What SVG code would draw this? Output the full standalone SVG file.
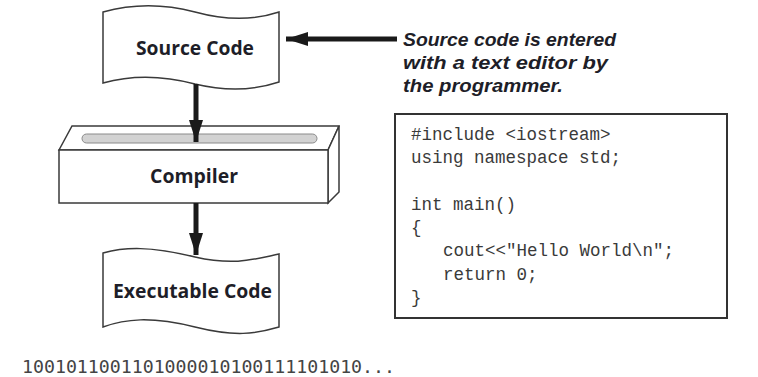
<svg xmlns="http://www.w3.org/2000/svg" width="758" height="377" viewBox="0 0 758 377">
<defs>
<style>
.shape{fill:#fff;stroke:#3a3a3a;stroke-width:1.5;stroke-linejoin:miter}
.label{font-family:"Open Sans","Liberation Sans",sans-serif;font-weight:bold;font-size:20px;fill:#1e1e28;text-anchor:middle}
.note{font-family:"Liberation Sans",sans-serif;font-weight:bold;font-style:italic;font-size:19px;fill:#1e1e28}
.code{font-family:"Liberation Mono","Courier New",monospace;font-size:17.5px;fill:#3a3a3a}
.bin{font-family:"DejaVu Sans Mono",monospace;font-size:18px;fill:#444}
.conn{stroke:#1a1a1a;stroke-width:5;fill:none}
</style>
<marker id="head" markerUnits="userSpaceOnUse" markerWidth="24" markerHeight="14" refX="22" refY="7" orient="auto">
<path d="M0,0 L22,7 L0,14 Z" fill="#1a1a1a"/>
</marker>
</defs>
<rect width="758" height="377" fill="#fff"/>

<g id="source-code">
<path class="shape" d="M103,12 C135,3 165,4 195,12 C228,21 255,20 279,12 L279,82 C255,90 228,92 195,84 C165,76 135,74 103,83 Z"/>
<text class="label" x="195" y="55" textLength="118" lengthAdjust="spacingAndGlyphs">Source Code</text>
</g>

<g id="compiler">
<polygon class="shape" points="59,150 72,126 339,126 328,150"/>
<polygon class="shape" points="328,150 339,126 339,192 328,203"/>
<rect class="shape" x="59" y="150" width="269" height="53"/>
<rect x="82" y="134" width="235" height="9" rx="4.5" fill="#d2d2d2" stroke="#8a8a8a" stroke-width="1"/>
<text class="label" x="194" y="183" textLength="88" lengthAdjust="spacingAndGlyphs">Compiler</text>
</g>

<g id="executable-code">
<path class="shape" d="M103,253 C125,247 150,246 195,257 C235,266 255,259 279,254 L279,327 C255,334 235,337 195,327 C150,316 125,319 103,327 Z"/>
<text class="label" x="192.5" y="298" textLength="159" lengthAdjust="spacingAndGlyphs">Executable Code</text>
</g>

<g id="note">
<text class="note" x="403" y="46" textLength="213" lengthAdjust="spacingAndGlyphs">Source code is entered</text>
<text class="note" x="403" y="69" textLength="205" lengthAdjust="spacingAndGlyphs">with a text editor by</text>
<text class="note" x="403" y="92" textLength="160" lengthAdjust="spacingAndGlyphs">the programmer.</text>
</g>

<g id="code-box">
<rect x="395" y="114" width="332" height="204" fill="#fff" stroke="#333" stroke-width="2"/>
<text class="code" x="411" y="140">#include &lt;iostream&gt;</text>
<text class="code" x="411" y="163">using namespace std;</text>
<text class="code" x="411" y="210">int main()</text>
<text class="code" x="411" y="233">{</text>
<text class="code" x="443" y="256">cout&lt;&lt;"Hello World\n";</text>
<text class="code" x="443" y="280">return 0;</text>
<text class="code" x="411" y="303">}</text>
</g>

<g id="binary">
<text class="bin" x="22" y="373" textLength="373" lengthAdjust="spacingAndGlyphs">1001011001101000010100111101010...</text>
</g>

<g id="connectors">
<line class="conn" x1="196" y1="84" x2="196" y2="142" marker-end="url(#head)"/>
<line class="conn" x1="196" y1="203" x2="196" y2="255" marker-end="url(#head)"/>
<line class="conn" x1="397" y1="39" x2="286" y2="39" marker-end="url(#head)"/>
</g>
</svg>
